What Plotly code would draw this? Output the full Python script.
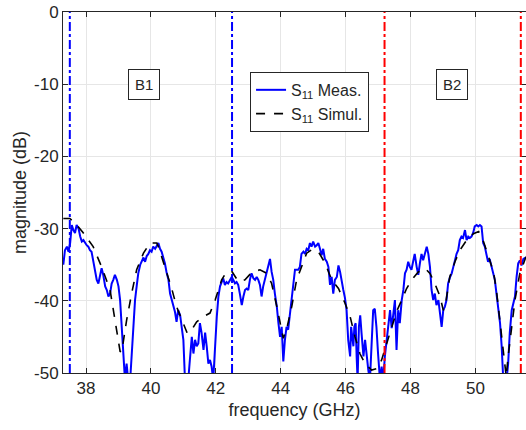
import plotly.graph_objects as go

# Measured S11 (GHz, dB); values below -50 are clipped by the axis
meas_f = [37.30,37.35,37.41,37.46,37.51,37.56,37.61,37.66,37.71,37.77,37.82,37.87,37.92,37.97,38.02,38.07,38.12,38.17,38.23,38.28,38.33,38.38,38.43,38.48,38.53,38.59,38.64,38.69,38.74,38.79,38.84,38.89,38.95,39.00,39.05,39.10,39.15,39.20,39.25,39.30,39.36,39.41,39.46,39.51,39.56,39.61,39.67,39.72,39.77,39.82,39.87,39.92,39.97,40.02,40.07,40.13,40.18,40.23,40.28,40.33,40.38,40.43,40.48,40.54,40.59,40.64,40.69,40.74,40.79,40.84,40.90,40.95,41.00,41.05,41.10,41.15,41.20,41.26,41.31,41.36,41.41,41.46,41.51,41.56,41.62,41.67,41.72,41.77,41.82,41.87,41.92,41.98,42.03,42.08,42.13,42.18,42.23,42.28,42.33,42.38,42.44,42.49,42.54,42.59,42.64,42.69,42.74,42.80,42.85,42.90,42.95,43.00,43.05,43.10,43.16,43.21,43.26,43.31,43.36,43.41,43.46,43.51,43.57,43.62,43.67,43.72,43.77,43.82,43.88,43.93,43.98,44.03,44.08,44.13,44.18,44.23,44.29,44.34,44.39,44.44,44.49,44.54,44.59,44.64,44.70,44.75,44.80,44.85,44.90,44.95,45.00,45.06,45.11,45.16,45.21,45.26,45.31,45.36,45.42,45.47,45.52,45.57,45.62,45.67,45.73,45.78,45.83,45.88,45.93,45.98,46.03,46.08,46.14,46.17,46.21,46.24,46.27,46.31,46.34,46.37,46.41,46.45,46.49,46.55,46.60,46.65,46.70,46.75,46.80,46.85,46.90,46.95,47.00,47.06,47.11,47.16,47.21,47.26,47.32,47.37,47.42,47.47,47.52,47.57,47.62,47.67,47.73,47.78,47.83,47.88,47.93,47.98,48.03,48.08,48.13,48.19,48.24,48.29,48.34,48.39,48.45,48.50,48.55,48.60,48.65,48.70,48.75,48.80,48.86,48.91,48.96,49.01,49.06,49.11,49.16,49.22,49.27,49.32,49.37,49.42,49.47,49.52,49.57,49.62,49.68,49.73,49.78,49.83,49.88,49.93,49.98,50.04,50.09,50.14,50.19,50.24,50.29,50.34,50.39,50.44,50.50,50.55,50.60,50.65,50.70,50.76,50.81,50.86,50.91,50.96,51.01,51.06,51.12,51.17,51.22,51.27,51.32,51.37,51.42,51.48,51.56]
meas_db = [-35.0,-33.0,-32.5,-33.2,-32.0,-29.5,-30.2,-30.6,-29.5,-30.0,-31.1,-31.8,-31.6,-32.0,-32.3,-32.5,-33.0,-33.2,-34.6,-36.0,-37.1,-37.6,-36.7,-35.5,-36.4,-38.0,-38.5,-39.4,-39.0,-37.6,-37.1,-36.4,-37.1,-38.0,-39.9,-44.0,-48.2,-51.0,-48.7,-51.0,-51.0,-46.8,-43.1,-39.9,-38.0,-36.2,-35.0,-34.4,-34.0,-34.6,-33.8,-33.5,-33.0,-33.2,-32.5,-32.8,-32.3,-32.0,-32.8,-33.2,-34.0,-34.8,-36.0,-37.1,-39.0,-39.9,-40.8,-41.5,-42.9,-41.3,-42.0,-43.6,-45.4,-51.0,-51.0,-51.0,-48.2,-45.0,-47.3,-45.4,-46.3,-45.9,-43.1,-44.4,-46.8,-44.4,-46.3,-48.7,-48.2,-49.1,-51.0,-45.9,-42.2,-39.4,-38.0,-37.4,-36.9,-37.8,-37.4,-37.6,-37.1,-36.7,-37.1,-37.6,-37.4,-37.8,-39.0,-40.6,-39.4,-38.5,-38.3,-38.5,-37.1,-36.2,-36.9,-37.1,-36.7,-37.1,-37.8,-39.4,-38.0,-37.1,-36.4,-35.3,-34.2,-36.0,-37.1,-39.0,-40.8,-43.1,-45.0,-43.6,-48.4,-45.4,-43.6,-44.0,-41.7,-39.9,-38.0,-35.7,-35.7,-35.7,-35.3,-33.5,-33.2,-33.5,-32.8,-33.0,-32.0,-32.5,-31.8,-32.5,-32.3,-32.0,-32.8,-33.7,-32.8,-34.2,-34.6,-35.3,-37.8,-36.7,-39.0,-37.1,-36.7,-35.1,-36.0,-37.6,-38.5,-39.6,-41.3,-45.4,-47.7,-43.6,-45.0,-46.3,-43.6,-43.1,-47.7,-51.0,-43.6,-42.0,-44.4,-47.7,-45.4,-47.7,-49.6,-51.0,-46.8,-41.3,-41.1,-43.6,-47.3,-51.0,-49.1,-51.0,-47.7,-45.4,-42.7,-41.3,-43.8,-41.3,-39.9,-46.8,-41.3,-43.1,-39.9,-38.5,-36.2,-35.7,-34.6,-35.3,-35.7,-34.6,-33.5,-35.3,-36.4,-34.8,-33.5,-34.4,-33.5,-32.5,-33.5,-35.3,-38.5,-39.9,-39.0,-40.6,-39.9,-41.8,-43.6,-41.3,-40.8,-39.9,-37.6,-36.7,-36.2,-35.3,-34.2,-33.5,-33.0,-31.6,-31.1,-31.3,-30.2,-31.6,-31.1,-31.3,-31.1,-30.6,-29.7,-29.5,-29.7,-29.5,-29.7,-32.0,-32.5,-33.5,-34.6,-34.2,-35.3,-36.0,-37.1,-39.0,-40.8,-43.1,-46.3,-51.0,-51.0,-51.0,-48.7,-44.4,-41.3,-40.3,-39.4,-36.7,-34.8,-34.4,-35.1,-34.2,-34.0]

# Simulated S11 (GHz, dB)
sim_f = [37.30,37.50,37.66,37.90,38.22,38.48,38.74,38.90,39.05,39.10,39.25,39.41,39.56,39.77,39.97,40.18,40.23,40.43,40.64,40.79,40.95,41.12,41.26,41.41,41.62,41.82,41.98,42.18,42.33,42.49,42.69,42.90,43.10,43.36,43.57,43.72,43.88,44.03,44.08,44.18,44.34,44.49,44.60,44.80,44.96,45.16,45.37,45.57,45.78,45.98,46.14,46.29,46.44,46.60,46.80,46.96,47.11,47.27,47.42,47.57,47.73,47.88,48.04,48.24,48.45,48.60,48.75,48.91,49.01,49.06,49.21,49.37,49.52,49.73,49.94,50.10,50.25,50.41,50.56,50.66,50.76,50.87,50.95,51.01,51.12,51.22,51.37,51.56]
sim_db = [-28.6,-28.6,-29.2,-30.5,-32.5,-35.3,-38.5,-42.7,-47.0,-47.1,-42.7,-38.9,-35.7,-33.4,-32.0,-32.0,-32.5,-35.3,-38.3,-40.8,-42.7,-44.5,-44.0,-42.9,-42.2,-41.7,-39.9,-37.1,-36.0,-35.9,-37.3,-37.1,-36.1,-35.7,-36.2,-37.6,-40.8,-44.0,-45.2,-44.0,-40.8,-37.1,-35.7,-33.4,-32.9,-33.2,-34.8,-37.1,-38.3,-40.3,-42.2,-45.0,-47.3,-48.7,-49.6,-49.4,-48.2,-45.9,-43.4,-41.5,-39.9,-38.3,-37.1,-36.0,-35.5,-36.2,-37.6,-39.4,-41.3,-41.0,-36.7,-34.6,-33.0,-31.6,-30.7,-30.4,-31.8,-33.9,-36.0,-39.0,-43.1,-46.8,-50.5,-47.7,-43.6,-39.9,-36.2,-33.9]

# Band edges (GHz)
band_b1 = [37.5, 42.5]
band_b2 = [47.2, 51.4]
band_labels = ["B1", "B2"]
label_f = [39.8, 49.27]
label_db = [-10, -10]

x_ticks = [38, 40, 42, 44, 46, 48, 50]
x_tick_text = ["38", "40", "42", "44", "46", "48", "50"]
y_ticks = [-50, -40, -30, -20, -10, 0]
y_tick_text = ["-50", "-40", "-30", "-20", "-10", "0"]

FONT = "Liberation Sans, Arial, sans-serif"
TXT = "#262626"

fig = go.Figure()
fig.add_trace(go.Scatter(x=meas_f, y=meas_db, mode="lines",
                         name="S<sub style='font-size:15px'>11</sub> Meas.",
                         line=dict(color="#0000ff", width=2)))
fig.add_trace(go.Scatter(x=sim_f, y=sim_db, mode="lines",
                         name="S<sub style='font-size:15px'>11</sub> Simul.",
                         line=dict(color="#000000", width=1.6, dash="dash")))

for xs, col in [(band_b1, "#0000ff"), (band_b2, "#ff0000")]:
    for xv in xs:
        fig.add_shape(type="line", xref="x", yref="paper", x0=xv, x1=xv, y0=0, y1=1,
                      line=dict(color=col, width=2, dash="dashdot"), layer="above")

for t, xv, yv in zip(band_labels, label_f, label_db):
    fig.add_annotation(x=xv, y=yv, text=t, showarrow=False,
                       font=dict(family=FONT, size=15, color=TXT),
                       bordercolor="#262626", borderwidth=1, borderpad=6, bgcolor="white")

axis_common = dict(showgrid=True, gridcolor="#e6e6e6", gridwidth=1, zeroline=False,
                   showline=True, linecolor="#262626", linewidth=1, mirror="ticks",
                   ticks="inside", ticklen=5, tickcolor="#262626",
                   tickfont=dict(family=FONT, size=17, color=TXT))

fig.update_layout(
    width=526, height=430,
    margin=dict(l=63, r=0, t=12, b=57),
    paper_bgcolor="white", plot_bgcolor="white",
    showlegend=True,
    legend=dict(x=0.404, y=0.834, xanchor="left", yanchor="top",
                bgcolor="white", bordercolor="#262626", borderwidth=1,
                font=dict(family=FONT, size=16, color=TXT), tracegroupgap=4,
                itemwidth=30),
    xaxis=dict(range=[37.29, 51.56], tickvals=x_ticks, ticktext=x_tick_text,
               title=dict(text="frequency (GHz)", font=dict(family=FONT, size=18, color=TXT), standoff=5),
               **axis_common),
    yaxis=dict(range=[-50, 0], tickvals=y_ticks, ticktext=y_tick_text,
               title=dict(text="magnitude (dB)", font=dict(family=FONT, size=18, color=TXT), standoff=2),
               **axis_common),
)

fig.write_html("out.html")
